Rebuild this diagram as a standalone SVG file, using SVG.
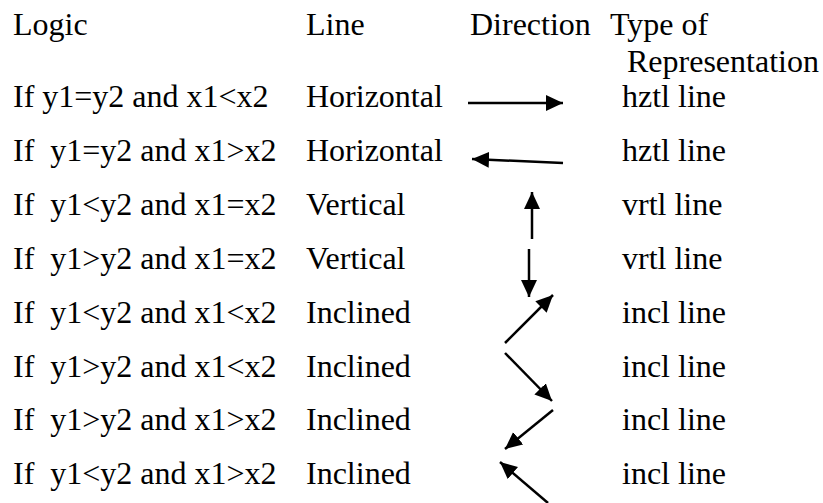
<svg xmlns="http://www.w3.org/2000/svg" width="823" height="503" viewBox="0 0 823 503">
  <style>
    text { font-family: "Liberation Serif", Tinos, "Times New Roman", "DejaVu Serif", serif; font-size: 32px; fill: #000; white-space: pre; }
    .arrow { stroke: #000; stroke-width: 2.5; fill: none; marker-end: url(#head); }
  </style>
  <defs>
    <marker id="head" markerUnits="userSpaceOnUse" markerWidth="18" markerHeight="17" refX="17" refY="8" orient="auto" viewBox="0 0 18 17">
      <path d="M0,0 L17,8 L0,16 z" fill="#000"/>
    </marker>
  </defs>
  <rect width="823" height="503" fill="#fff"/>

  <g id="header">
    <text x="13" y="35">Logic</text>
    <text x="306" y="35">Line</text>
    <text x="470" y="35">Direction</text>
    <text x="610" y="35">Type of</text>
    <text x="627" y="72">Representation</text>
  </g>

  <g id="row1">
    <text x="13" y="107">If y1=y2 and x1&lt;x2</text>
    <text x="306" y="107">Horizontal</text>
    <text x="622" y="107">hztl line</text>
  </g>
  <g id="row2">
    <text x="13" y="161">If  y1=y2 and x1&gt;x2</text>
    <text x="306" y="161">Horizontal</text>
    <text x="622" y="161">hztl line</text>
  </g>
  <g id="row3">
    <text x="13" y="215">If  y1&lt;y2 and x1=x2</text>
    <text x="306" y="215">Vertical</text>
    <text x="622" y="215">vrtl line</text>
  </g>
  <g id="row4">
    <text x="13" y="269">If  y1&gt;y2 and x1=x2</text>
    <text x="306" y="269">Vertical</text>
    <text x="622" y="269">vrtl line</text>
  </g>
  <g id="row5">
    <text x="13" y="323">If  y1&lt;y2 and x1&lt;x2</text>
    <text x="306" y="323">Inclined</text>
    <text x="622" y="323">incl line</text>
  </g>
  <g id="row6">
    <text x="13" y="377">If  y1&gt;y2 and x1&lt;x2</text>
    <text x="306" y="377">Inclined</text>
    <text x="622" y="377">incl line</text>
  </g>
  <g id="row7">
    <text x="13" y="430">If  y1&gt;y2 and x1&gt;x2</text>
    <text x="306" y="430">Inclined</text>
    <text x="622" y="430">incl line</text>
  </g>
  <g id="row8">
    <text x="13" y="484">If  y1&lt;y2 and x1&gt;x2</text>
    <text x="306" y="484">Inclined</text>
    <text x="622" y="484">incl line</text>
  </g>

  <g id="connectors">
    <line class="arrow" x1="468" y1="103" x2="563" y2="103"/>
    <line class="arrow" x1="563" y1="163" x2="472" y2="159"/>
    <line class="arrow" x1="532" y1="239" x2="532" y2="192"/>
    <line class="arrow" x1="529" y1="249" x2="529" y2="297"/>
    <line class="arrow" x1="505" y1="343" x2="553" y2="295"/>
    <line class="arrow" x1="505" y1="353" x2="552" y2="401"/>
    <line class="arrow" x1="553" y1="410" x2="505" y2="449"/>
    <line class="arrow" x1="548" y1="503" x2="500" y2="462"/>
  </g>
</svg>
